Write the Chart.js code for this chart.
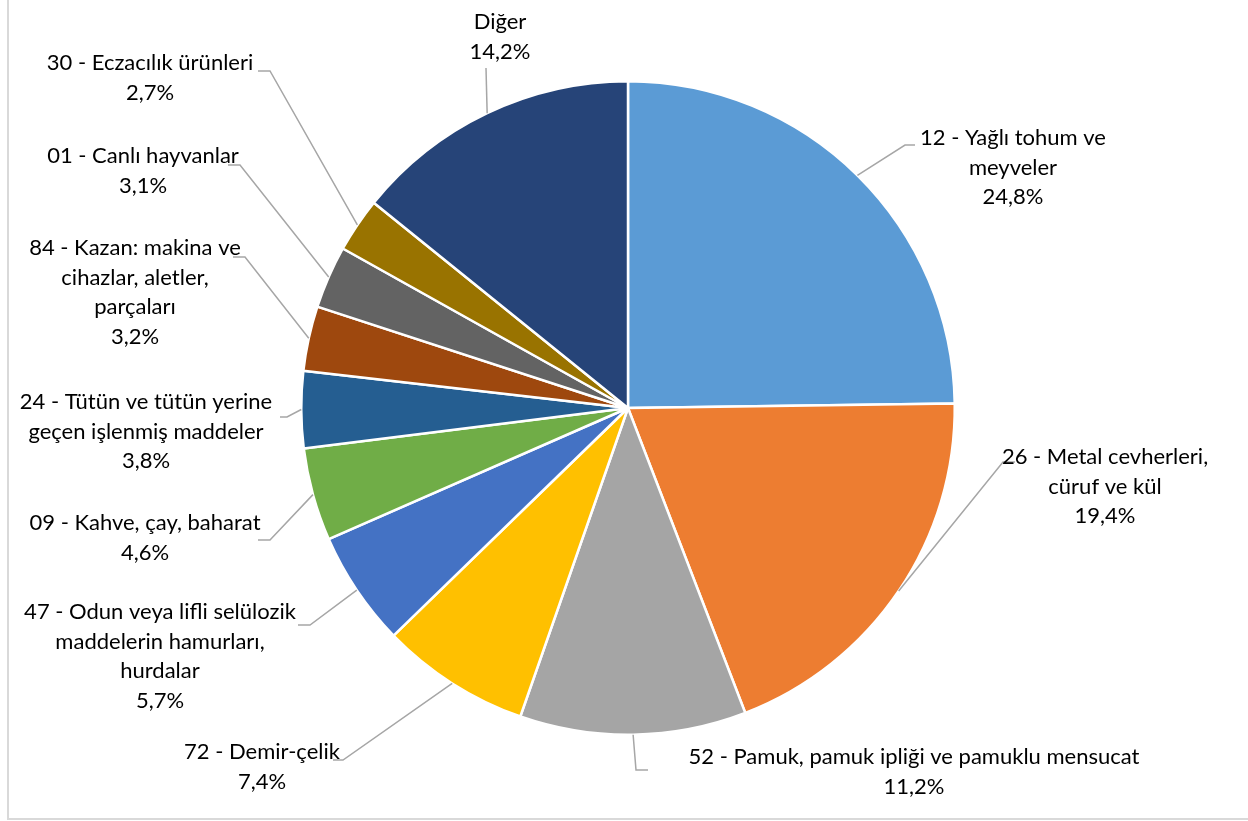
<!DOCTYPE html>
<html>
<head>
<meta charset="utf-8">
<script src="https://cdn.jsdelivr.net/npm/chart.js@4.4.1/dist/chart.umd.min.js"></script>
<style>
  html, body { margin: 0; padding: 0; background: #fff; }
  #wrap { position: relative; width: 1248px; height: 821px; }
  #frame {
    position: absolute; left: 7px; top: -2px; width: 1260px; height: 822px;
    border: 2px solid #d9d9d9; box-sizing: border-box; pointer-events: none;
  }
</style>
</head>
<body>
<div id="wrap">
  <canvas id="chart"></canvas>
  <div id="frame"></div>
</div>
<script>
// =========================
// DATA
// =========================
const categories = [
  "12 - Yağlı tohum ve meyveler",
  "26 - Metal cevherleri, cüruf ve kül",
  "52 - Pamuk, pamuk ipliği ve pamuklu mensucat",
  "72 - Demir-çelik",
  "47 - Odun veya lifli selülozik maddelerin hamurları, hurdalar",
  "09 - Kahve, çay, baharat",
  "24 - Tütün ve tütün yerine geçen işlenmiş maddeler",
  "84 - Kazan: makina ve cihazlar, aletler, parçaları",
  "01 - Canlı hayvanlar",
  "30 - Eczacılık ürünleri",
  "Diğer"
];
const shares = [24.8, 19.4, 11.2, 7.4, 5.7, 4.6, 3.8, 3.2, 3.1, 2.7, 14.2];

// label text as it wraps in the original
const labelLines = [
  ["12 - Yağlı tohum ve", "meyveler"],
  ["26 - Metal cevherleri,", "cüruf ve kül"],
  ["52 - Pamuk, pamuk ipliği ve pamuklu mensucat"],
  ["72 - Demir-çelik"],
  ["47 - Odun veya lifli selülozik", "maddelerin hamurları,", "hurdalar"],
  ["09 - Kahve, çay, baharat"],
  ["24 - Tütün ve tütün yerine", "geçen işlenmiş maddeler"],
  ["84 - Kazan: makina ve", "cihazlar, aletler,", "parçaları"],
  ["01 - Canlı hayvanlar"],
  ["30 - Eczacılık ürünleri"],
  ["Diğer"]
];

const colors = [
  "#5B9BD5", "#ED7D31", "#A5A5A5", "#FFC000", "#4472C4", "#70AD47",
  "#255E91", "#9E480E", "#636363", "#997300", "#264478"
];

// label placement relative to pie centre: text centre x, first line y, elbow, leader end
const labelLayout = [
  { tx: 385, ty: -270, ex: 277, ey: -263, hx: 287 },
  { tx: 477, ty: 49,  ex: 375, ey: 54,  hx: 387 },
  { tx: 286, ty: 349, ex: 8,   ey: 362, hx: 20 },
  { tx: -366, ty: 344, ex: -285, ey: 352, hx: -295 },
  { tx: -468, ty: 204, ex: -318, ey: 217, hx: -330 },
  { tx: -483, ty: 115, ex: -358, ey: 132, hx: -370 },
  { tx: -482, ty: -6,  ex: -341, ey: 9,   hx: -348 },
  { tx: -493, ty: -160, ex: -383, ey: -151, hx: -395 },
  { tx: -485, ty: -252, ex: -388, ey: -243, hx: -400 },
  { tx: -478, ty: -345, ex: -358, ey: -337, hx: -370 },
  { tx: -128, ty: -386, ex: -142, ey: -340, hx: -142 }
];

const FONT = '22px Lato, "Open Sans", sans-serif';
const LINE_H = 29.5;

const fmtPct = v => v.toFixed(1).replace(".", ",") + "%";

// =========================
// LABEL + LEADER PLUGIN
// =========================
const outsideLabels = {
  id: "outsideLabels",
  afterDatasetsDraw(chart) {
    const ctx = chart.ctx;
    const meta = chart.getDatasetMeta(0);
    ctx.save();
    meta.data.forEach((arc, i) => {
      const p = arc.getProps(["x", "y", "startAngle", "endAngle", "outerRadius"], true);
      const mid = (p.startAngle + p.endAngle) / 2;
      const sx = p.x + Math.cos(mid) * p.outerRadius;
      const sy = p.y + Math.sin(mid) * p.outerRadius;
      const L = labelLayout[i];

      // leader line
      ctx.strokeStyle = "#a6a6a6";
      ctx.lineWidth = 1.5;
      ctx.beginPath();
      ctx.moveTo(sx, sy);
      ctx.lineTo(p.x + L.ex, p.y + L.ey);
      ctx.lineTo(p.x + L.hx, p.y + L.ey);
      ctx.stroke();

      // text
      const lines = [...labelLines[i], fmtPct(shares[i])];
      ctx.fillStyle = "#000";
      ctx.font = FONT;
      ctx.textAlign = "center";
      ctx.textBaseline = "middle";
      lines.forEach((t, k) => {
        ctx.fillText(t, p.x + L.tx, p.y + L.ty + k * LINE_H);
      });
    });
    ctx.restore();
  }
};

// =========================
// CHART
// =========================
new Chart(document.getElementById("chart"), {
  type: "pie",
  data: {
    labels: categories,
    datasets: [{
      data: shares,
      backgroundColor: colors,
      borderColor: "#ffffff",
      borderWidth: 2.5
    }]
  },
  options: {
    responsive: true,
    maintainAspectRatio: false,
    animation: false,
    layout: { padding: { top: 80, bottom: 85, left: 200, right: 192 } },
    plugins: {
      legend: { display: false },
      tooltip: { enabled: false }
    }
  },
  plugins: [outsideLabels]
});
</script>
</body>
</html>
